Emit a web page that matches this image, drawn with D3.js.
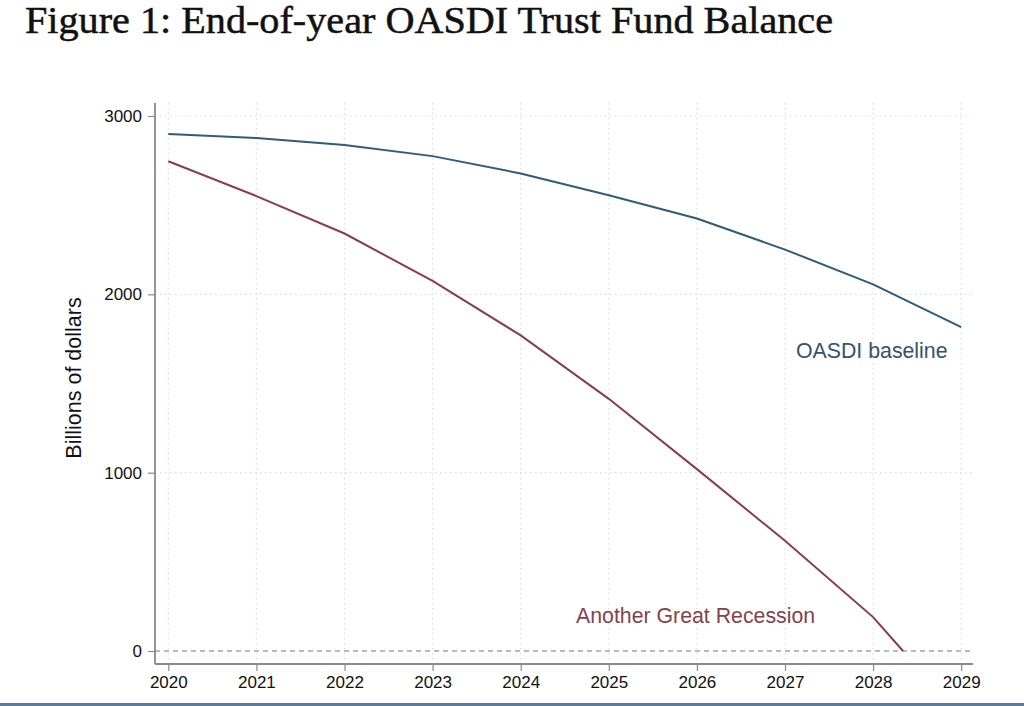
<!DOCTYPE html>
<html><head><meta charset="utf-8">
<script src="https://cdn.jsdelivr.net/npm/d3@7"></script>
<style>body{margin:0;background:#fff;} svg{display:block;}</style>
</head><body>
<svg id="chart" width="1024" height="706"></svg>
<script>
const years = [2020,2021,2022,2023,2024,2025,2026,2027,2028,2029];
const baseline = [2899,2876,2837,2775,2678,2556,2425,2251,2056,1816];
const recessionYears = [2020,2021,2022,2023,2024,2025,2026,2027,2028,2028.34];
const recession = [2746,2551,2341,2075,1770,1414,1020,618,190,0];
const yTicks = [0,1000,2000,3000];
const xTicks = years;
const titleText = "Figure 1: End-of-year OASDI Trust Fund Balance";
const yLabel = "Billions of dollars";
const baselineLabel = "OASDI baseline";
const recessionLabel = "Another Great Recession";

const svg = d3.select("#chart");
const x = d3.scaleLinear().domain([2020,2029]).range([168.3,961.2]);
const y = d3.scaleLinear().domain([0,3000]).range([651,116]);
const xMin = 155, xMax = 973, yTop = 103, yBot = 664;

// title
const t = svg.append("text").attr("x",25).attr("y",33)
  .attr("font-family","Liberation Serif, serif").attr("font-size",38)
  .attr("fill","#111").attr("stroke","#111").attr("stroke-width",0.5).text(titleText);
t.attr("textLength",808).attr("lengthAdjust","spacingAndGlyphs");

// gridlines
svg.append("g").selectAll("line").data(xTicks).join("line")
  .attr("x1",d=>x(d)).attr("x2",d=>x(d)).attr("y1",yTop).attr("y2",yBot)
  .attr("stroke","#dcdcdc").attr("stroke-width",1.2).attr("stroke-dasharray","1.5,3.5");
svg.append("g").selectAll("line").data(yTicks.filter(d=>d>0)).join("line")
  .attr("x1",xMin).attr("x2",xMax).attr("y1",d=>y(d)).attr("y2",d=>y(d))
  .attr("stroke","#dcdcdc").attr("stroke-width",1.2).attr("stroke-dasharray","1.5,3.5");
// zero dashed line
svg.append("line").attr("x1",xMin).attr("x2",xMax).attr("y1",y(0)).attr("y2",y(0))
  .attr("stroke","#777").attr("stroke-width",1.2).attr("stroke-dasharray","5,4");

// axes
const yAxis = d3.axisLeft(y).tickValues(yTicks).tickSize(7).tickPadding(6).tickFormat(d3.format("d"));
const gy = svg.append("g").attr("transform",`translate(${xMin},0)`).call(yAxis);
const xAxis = d3.axisBottom(x).tickValues(xTicks).tickSize(7).tickPadding(5).tickFormat(d3.format("d"));
const gx = svg.append("g").attr("transform",`translate(0,${yBot})`).call(xAxis);
[gx,gy].forEach(g=>{
  g.select(".domain").remove();
  g.selectAll(".tick line").attr("stroke","#8a8a8a").attr("stroke-width",1.2);
  g.selectAll(".tick text").attr("font-family","Liberation Sans, Arial, sans-serif")
    .attr("font-size",17).attr("fill","#111");
});
svg.append("line").attr("x1",xMin).attr("x2",xMin).attr("y1",yTop).attr("y2",yBot)
  .attr("stroke","#8a8a8a").attr("stroke-width",1.8);
svg.append("line").attr("x1",xMin).attr("x2",xMax).attr("y1",yBot).attr("y2",yBot)
  .attr("stroke","#8a8a8a").attr("stroke-width",1.8);

// y label
svg.append("text").attr("transform","translate(81,378) rotate(-90)")
  .attr("text-anchor","middle").attr("font-family","Liberation Sans, Arial, sans-serif")
  .attr("font-size",21.5).attr("fill","#111").text(yLabel);

// lines
const line = d3.line().x(d=>x(d[0])).y(d=>y(d[1]));
svg.append("path").datum(years.map((d,i)=>[d,baseline[i]])).attr("d",line)
  .attr("fill","none").attr("stroke","#2f5b7c").attr("stroke-width",2);
svg.append("path").datum(recessionYears.map((d,i)=>[d,recession[i]])).attr("d",line)
  .attr("fill","none").attr("stroke","#8b3c49").attr("stroke-width",2);

// labels
svg.append("text").attr("x",796).attr("y",358).attr("font-family","Liberation Sans, Arial, sans-serif")
  .attr("font-size",21.3).attr("fill","#33536e").text(baselineLabel);
svg.append("text").attr("x",576).attr("y",623).attr("font-family","Liberation Sans, Arial, sans-serif")
  .attr("font-size",21.3).attr("fill","#86414c").text(recessionLabel);

// bottom border
svg.append("rect").attr("x",0).attr("y",703).attr("width",1024).attr("height",3).attr("fill","#5b7b9c");
</script>
</body></html>
